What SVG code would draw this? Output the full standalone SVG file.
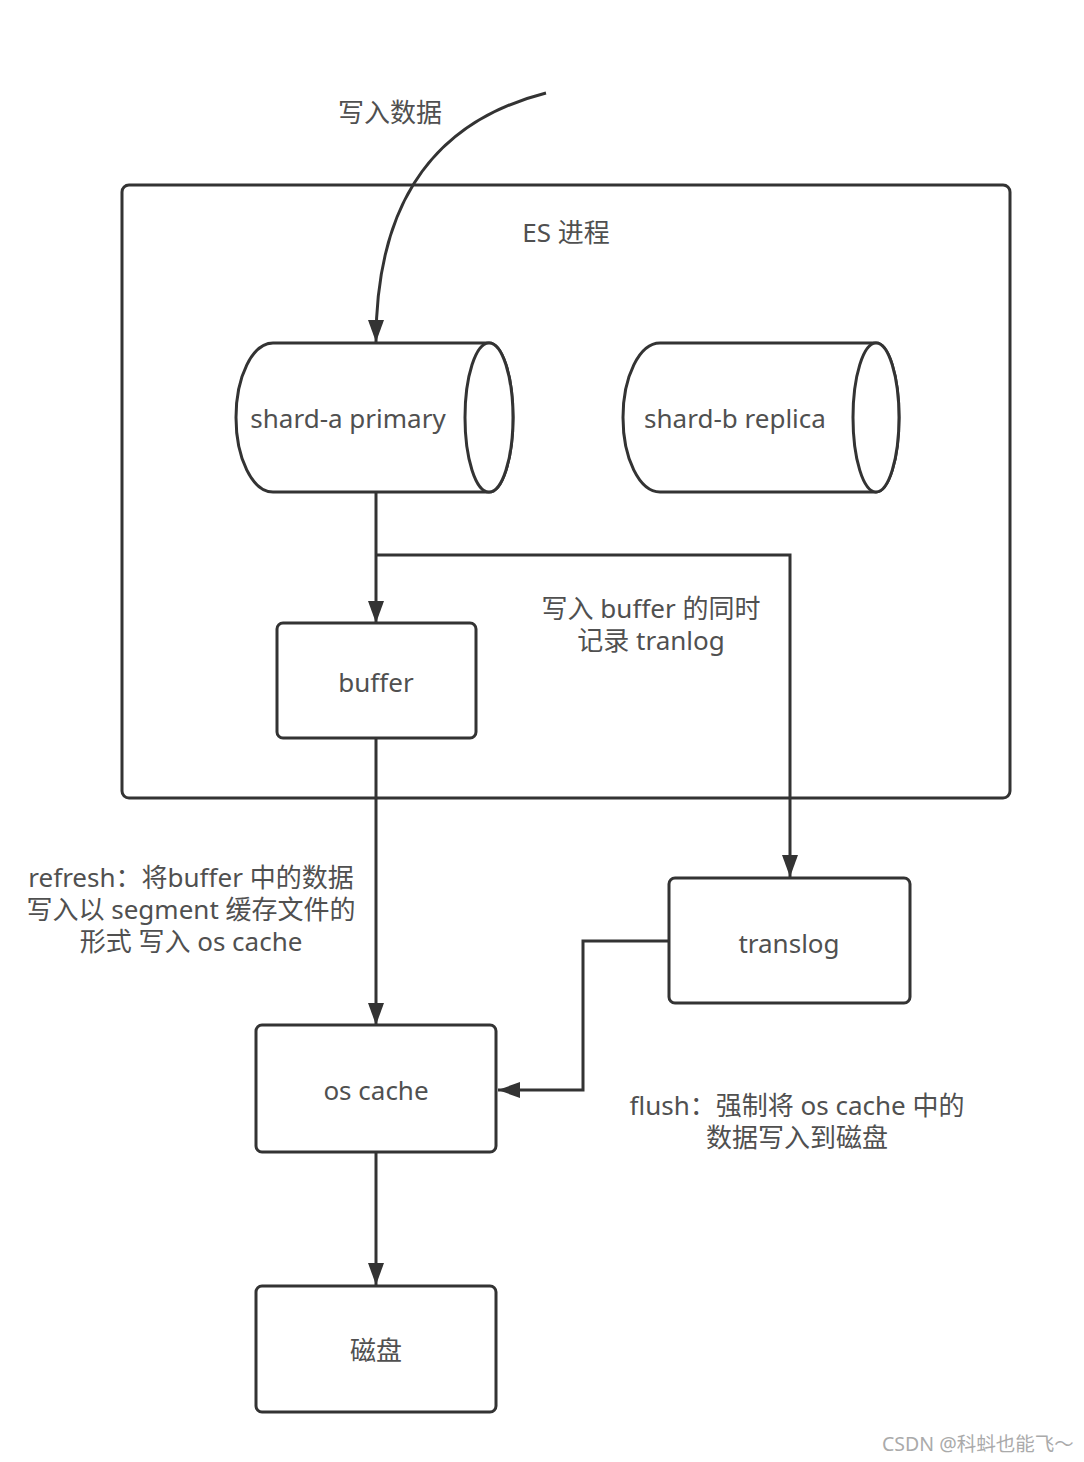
<svg xmlns="http://www.w3.org/2000/svg" width="1084" height="1462" viewBox="0 0 1084 1462">
<style>
.shape{fill:#fff;stroke:#333;stroke-width:3}
.edge{fill:none;stroke:#333;stroke-width:3}
text{font-family:"Noto Sans","Noto Sans CJK SC",sans-serif;font-size:26px;fill:#505050;text-anchor:middle;dominant-baseline:central}
.wm{font-size:19.5px;fill:#aaa;text-anchor:start}
</style>
<defs>
<marker id="arrow" markerUnits="userSpaceOnUse" markerWidth="24" markerHeight="18" refX="22" refY="9" orient="auto">
<path d="M0,1 L22,9 L0,17 Z" fill="#333"/>
</marker>
</defs>
<rect width="1084" height="1462" fill="#fff"/>
<g id="es-process">
<rect class="shape" x="122" y="185" width="888" height="613" rx="7"/>
<text x="566" y="232">ES 进程</text>
</g>
<g id="connectors">
<path class="edge" d="M546,93 C420,125 376,220 376,342" marker-end="url(#arrow)"/>
<path class="edge" d="M376,492 L376,623" marker-end="url(#arrow)"/>
<path class="edge" d="M376,555 L790,555 L790,877" marker-end="url(#arrow)"/>
<path class="edge" d="M376,738 L376,1025" marker-end="url(#arrow)"/>
<path class="edge" d="M669,941 L583,941 L583,1090 L498,1090" marker-end="url(#arrow)"/>
<path class="edge" d="M376,1152 L376,1285" marker-end="url(#arrow)"/>
</g>
<g id="label-write">
<text x="390" y="112">写入数据</text>
</g>
<g id="shard-a">
<path class="shape" d="M273,343 L489,343 A24,74.5 0 0 1 489,492 L273,492 A37,74.5 0 0 1 273,343 Z"/>
<ellipse class="shape" cx="489" cy="417.5" rx="24" ry="74.5"/>
<text x="348" y="418">shard-a primary</text>
</g>
<g id="shard-b">
<path class="shape" d="M660,343 L876,343 A23,74.5 0 0 1 876,492 L660,492 A37,74.5 0 0 1 660,343 Z"/>
<ellipse class="shape" cx="876" cy="417.5" rx="23" ry="74.5"/>
<text x="735" y="418">shard-b replica</text>
</g>
<g id="buffer">
<rect class="shape" x="277" y="623" width="199" height="115" rx="6"/>
<text x="376" y="682">buffer</text>
</g>
<g id="label-tranlog">
<text x="651" y="608">写入 buffer 的同时</text>
<text x="651" y="640">记录 tranlog</text>
</g>
<g id="translog">
<rect class="shape" x="669" y="878" width="241" height="125" rx="6"/>
<text x="789" y="943">translog</text>
</g>
<g id="label-refresh">
<text x="191" y="877">refresh：将buffer 中的数据</text>
<text x="191" y="909">写入以 segment 缓存文件的</text>
<text x="191" y="941">形式 写入 os cache</text>
</g>
<g id="os-cache">
<rect class="shape" x="256" y="1025" width="240" height="127" rx="6"/>
<text x="376" y="1090">os cache</text>
</g>
<g id="label-flush">
<text x="797" y="1105">flush：强制将 os cache 中的</text>
<text x="797" y="1137">数据写入到磁盘</text>
</g>
<g id="disk">
<rect class="shape" x="256" y="1286" width="240" height="126" rx="6"/>
<text x="376" y="1350">磁盘</text>
</g>
<text class="wm" x="882" y="1443">CSDN @科蚪也能飞～</text>
</svg>
